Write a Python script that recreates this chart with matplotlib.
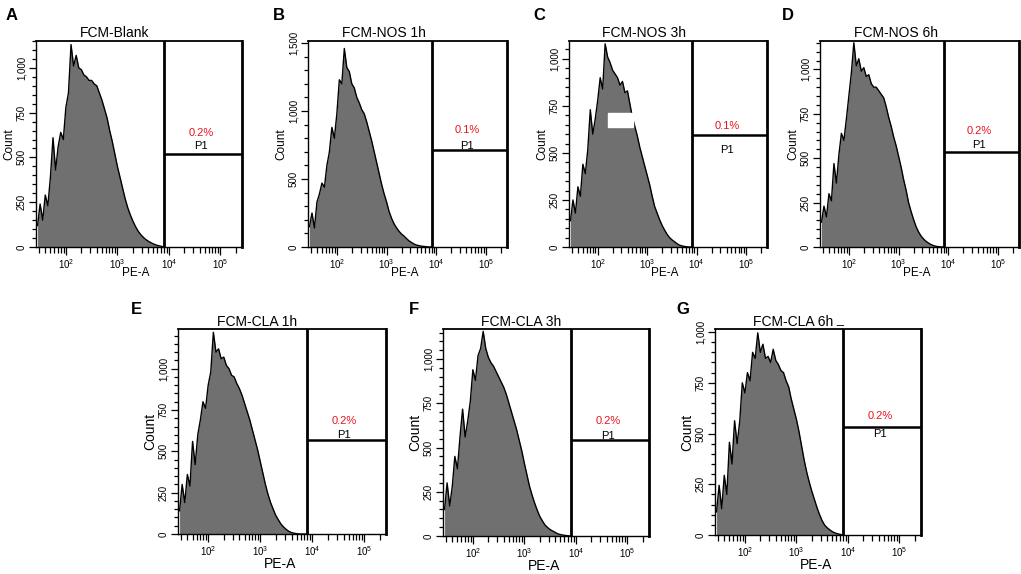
import matplotlib
matplotlib.use('Agg')
import numpy as np
import matplotlib.pyplot as plt
import matplotlib.transforms as mtransforms
from matplotlib.ticker import FixedLocator, LogLocator, MultipleLocator, FuncFormatter, NullFormatter
from matplotlib.patches import Rectangle

plt.rcParams['font.family'] = ['Liberation Sans', 'DejaVu Sans']
plt.rcParams['mathtext.fontset'] = 'custom'
plt.rcParams['mathtext.rm'] = 'Liberation Sans'
plt.rcParams['mathtext.it'] = 'Liberation Sans'

# bin centres on the PE-A axis, as log10 values
log_pe = [1.45, 1.50, 1.55, 1.60, 1.65, 1.70, 1.75, 1.80, 1.85, 1.90,
          1.95, 2.00, 2.05, 2.10, 2.15, 2.20, 2.25, 2.30, 2.35, 2.40,
          2.45, 2.50, 2.55, 2.60, 2.65, 2.70, 2.75, 2.80, 2.85, 2.90,
          2.95, 3.00, 3.05, 3.10, 3.15, 3.20, 3.25, 3.30, 3.35, 3.40,
          3.45, 3.50, 3.55, 3.60, 3.65, 3.70, 3.75, 3.80, 3.85, 3.90]

letters = ['A', 'B', 'C', 'D', 'E', 'F', 'G']
titles = ['FCM-Blank', 'FCM-NOS 1h', 'FCM-NOS 3h', 'FCM-NOS 6h',
          'FCM-CLA 1h', 'FCM-CLA 3h', 'FCM-CLA 6h _']

counts_blank = [120, 240, 150, 290, 230, 390, 610, 430, 560, 640,
                600, 780, 860, 1130, 1010, 1070, 1000, 990, 960, 950,
                930, 930, 910, 900, 860, 820, 770, 720, 650, 590,
                520, 450, 390, 330, 270, 220, 180, 145, 115, 90,
                70, 55, 42, 32, 24, 17, 11, 7, 4, 0]
counts_nos1 = [150, 250, 140, 330, 390, 470, 440, 600, 700, 880,
               800, 980, 1230, 1200, 1460, 1320, 1290, 1200, 1170, 1100,
               1060, 1010, 980, 920, 850, 780, 700, 620, 540, 460,
               390, 330, 260, 210, 170, 140, 115, 95, 80, 62,
               45, 33, 22, 14, 10, 6, 4, 2, 0, 0]
counts_nos3 = [140, 250, 180, 320, 270, 440, 390, 520, 730, 600,
               680, 780, 900, 840, 1080, 1010, 980, 940, 920, 900,
               860, 880, 820, 830, 760, 690, 640, 590, 530, 480,
               430, 380, 330, 270, 215, 180, 145, 115, 90, 68,
               50, 38, 28, 18, 10, 6, 3, 1, 0, 0]
counts_nos6 = [140, 230, 170, 300, 260, 470, 360, 520, 640, 600,
               720, 850, 980, 1150, 1020, 1060, 990, 1010, 960, 970,
               920, 900, 900, 880, 860, 840, 790, 730, 680, 620,
               570, 510, 450, 380, 320, 250, 200, 155, 115, 85,
               62, 45, 32, 22, 14, 8, 4, 2, 0, 0]
counts_cla1 = [140, 300, 190, 360, 290, 560, 420, 600, 690, 800,
               760, 900, 980, 1220, 1100, 1120, 1060, 1070, 1020, 1000,
               960, 950, 910, 880, 840, 790, 740, 690, 630, 570,
               510, 440, 370, 300, 240, 190, 150, 112, 85, 60,
               42, 28, 16, 9, 5, 2, 0, 0, 0, 0]
counts_cla3 = [150, 300, 170, 280, 450, 380, 560, 717, 560, 650,
               760, 940, 880, 1020, 1060, 1157, 1060, 1010, 980, 960,
               930, 900, 870, 840, 800, 750, 700, 650, 600, 540,
               480, 410, 345, 280, 230, 185, 145, 110, 85, 62,
               48, 36, 28, 20, 12, 8, 5, 3, 1, 0]
counts_cla6 = [114, 245, 130, 294, 200, 457, 350, 563, 450, 560,
               750, 700, 800, 760, 900, 870, 996, 900, 940, 870,
               880, 850, 915, 860, 840, 810, 800, 760, 730, 670,
               620, 570, 510, 440, 370, 310, 260, 215, 175, 135,
               100, 70, 48, 35, 25, 16, 10, 6, 3, 0]
all_counts = [counts_blank, counts_nos1, counts_nos3, counts_nos6,
              counts_cla1, counts_cla3, counts_cla6]

y_max = [1150, 1515, 1095, 1160, 1240, 1170, 1015]
y_step = [250, 500, 250, 250, 250, 250, 250]

# P1 interval gate
gate_edge = 8100
gate_level = [519, 713, 596, 535, 569, 545, 530]
gate_pct = ['0.2%', '0.1%', '0.1%', '0.2%', '0.2%', '0.2%', '0.2%']

pe_min, pe_max = 10 ** 1.42, 262144

# white patch that covers part of panel C
mask_pe = [161, 516]
mask_count = [638, 712]

W, H = 1021, 574
fig = plt.figure(figsize=(W / 100, H / 100), dpi=100)

# plot boxes in pixels: left, top, right, bottom
boxes = [(36, 41, 242, 247), (308, 41, 507, 247), (569, 41, 767, 247), (820, 41, 1019, 247),
         (178, 329, 386, 534), (443, 329, 649, 536), (715, 329, 921, 535)]
letter_pos = [(12, 15), (279, 15), (539, 15), (788, 15), (136, 309), (414, 310), (683, 309)]
pct_dy = [21, 20, 9, 21, 19, 19, 11]
p1_dy = [8, 4, -15, 7, 5, 4, -7]

pe = [10 ** v for v in log_pe]

for i in range(7):
    l, t, r, b = boxes[i]
    w, h = r - l, b - t
    ax = fig.add_axes([l / W, 1 - b / H, w / W, h / H])
    top_row = i < 4

    ax.fill_between(pe, all_counts[i], 0, color='#707070', lw=0, zorder=1)
    ax.plot(pe, all_counts[i], color='black', lw=1.0, zorder=2)
    if i == 2:
        ax.add_patch(Rectangle((mask_pe[0], mask_count[0]), mask_pe[1] - mask_pe[0],
                               mask_count[1] - mask_count[0], color='white', zorder=3))

    ax.set_xscale('log')
    ax.set_xlim(pe_min, pe_max)
    ax.set_ylim(0, y_max[i])

    # gate: divider and bar
    ax.axvline(gate_edge, color='black', lw=2.0, zorder=5)
    ax.hlines(gate_level[i], gate_edge, pe_max, color='black', lw=1.8, zorder=5)
    blend = mtransforms.blended_transform_factory(ax.transAxes, ax.transData)
    tr = mtransforms.offset_copy(blend, fig=fig, x=0, y=pct_dy[i], units='dots')
    ax.text(0.80, gate_level[i], gate_pct[i], transform=tr, color='#e8141e',
            fontsize=8, ha='center', va='center', zorder=4)
    tr = mtransforms.offset_copy(blend, fig=fig, x=0, y=p1_dy[i], units='dots')
    ax.text(0.80, gate_level[i], 'P1', transform=tr, color='black',
            fontsize=8, ha='center', va='center', zorder=4)

    # x axis ticks
    ax.xaxis.set_major_locator(FixedLocator([1e2, 1e3, 1e4, 1e5]))
    ax.xaxis.set_minor_locator(LogLocator(base=10, subs=range(2, 10), numticks=20))
    ax.xaxis.set_major_formatter(FuncFormatter(lambda v, p: '$10^{%d}$' % round(np.log10(v))))
    ax.xaxis.set_minor_formatter(NullFormatter())

    # y axis ticks
    ax.yaxis.set_major_locator(MultipleLocator(y_step[i]))
    ax.yaxis.set_minor_locator(MultipleLocator(y_step[i] / 5))
    ax.yaxis.set_major_formatter(FuncFormatter(lambda v, p: '{:,.0f}'.format(v)))

    ax.tick_params(axis='both', which='both', direction='out', width=0.9, color='black')
    ax.tick_params(axis='x', which='major', length=6, labelsize=7, pad=1.5)
    ax.tick_params(axis='x', which='minor', length=4.5)
    ax.tick_params(axis='y', which='major', length=5, labelsize=7, pad=1.5, labelrotation=90)
    ax.tick_params(axis='y', which='minor', length=3)
    for lbl in ax.get_yticklabels():
        lbl.set_va('center')

    for side in ['left', 'bottom']:
        ax.spines[side].set_linewidth(1.0)
    ax.spines['top'].set_linewidth(1.3)
    ax.spines['right'].set_linewidth(2.0)

    lab_size = 8.5 if top_row else 10
    ax.set_ylabel('Count', fontsize=lab_size)
    ax.yaxis.set_label_coords(-21 / w, 0.5)
    ax.set_xlabel('PE-A', fontsize=lab_size)
    ax.xaxis.set_label_coords(0.485 if top_row else 0.49, (-20 if top_row else -23) / h)

    # title sits on a baseline just above the box; a trailing "_" is drawn a bit higher
    base_dy = 4 if top_row else 3
    name = titles[i]
    mark = ''
    if name.endswith(' _'):
        name, mark = name[:-2], '_'
    ax.text(0.38, 1 + base_dy / h, name, transform=ax.transAxes,
            fontsize=10, ha='center', va='baseline')
    if mark:
        ax.text(0.607, 1 + (base_dy + 3) / h, mark, transform=ax.transAxes,
                fontsize=9, ha='center', va='baseline')

    fig.text(letter_pos[i][0] / W, 1 - letter_pos[i][1] / H, letters[i],
             fontsize=12, fontweight='bold', ha='center', va='center')

fig.savefig('out.png', dpi=100)
